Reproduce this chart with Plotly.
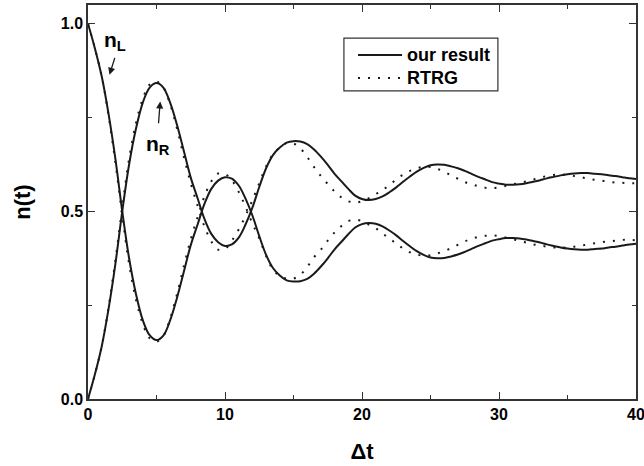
import plotly.graph_objects as go

# time grid (Delta t)
t = [i * 0.5 for i in range(81)]

# "our result" (solid)
our_nL = [1.000, 0.935, 0.860, 0.760, 0.640, 0.500, 0.375, 0.280, 0.210, 0.170,
          0.157, 0.169, 0.210, 0.270, 0.340, 0.410, 0.465, 0.520, 0.560, 0.582,
          0.591, 0.587, 0.569, 0.534, 0.489, 0.434, 0.384, 0.349, 0.329, 0.316,
          0.313, 0.314, 0.320, 0.334, 0.353, 0.375, 0.399, 0.419, 0.439, 0.457,
          0.466, 0.469, 0.467, 0.460, 0.449, 0.436, 0.421, 0.407, 0.394, 0.384,
          0.377, 0.375, 0.376, 0.380, 0.385, 0.392, 0.400, 0.408, 0.415, 0.422,
          0.426, 0.429, 0.429, 0.428, 0.425, 0.421, 0.417, 0.412, 0.408, 0.404,
          0.401, 0.399, 0.398, 0.398, 0.400, 0.401, 0.404, 0.406, 0.409, 0.412,
          0.414]
our_nR = [0.000, 0.065, 0.140, 0.240, 0.360, 0.500, 0.625, 0.720, 0.790, 0.830,
          0.842, 0.830, 0.789, 0.730, 0.660, 0.590, 0.535, 0.480, 0.440, 0.418,
          0.408, 0.412, 0.430, 0.465, 0.510, 0.565, 0.615, 0.650, 0.670, 0.683,
          0.687, 0.686, 0.679, 0.665, 0.646, 0.624, 0.600, 0.580, 0.560, 0.542,
          0.533, 0.530, 0.533, 0.540, 0.551, 0.564, 0.579, 0.593, 0.606, 0.616,
          0.623, 0.625, 0.624, 0.620, 0.615, 0.608, 0.600, 0.592, 0.585, 0.578,
          0.574, 0.571, 0.571, 0.572, 0.575, 0.579, 0.583, 0.588, 0.592, 0.596,
          0.599, 0.601, 0.602, 0.602, 0.600, 0.599, 0.596, 0.594, 0.591, 0.588,
          0.586]

# RTRG (dotted)
rtrg_nL = [1.000, 0.935, 0.860, 0.755, 0.630, 0.490, 0.360, 0.265, 0.200, 0.162,
           0.153, 0.168, 0.215, 0.280, 0.355, 0.425, 0.485, 0.540, 0.580, 0.601,
           0.600, 0.583, 0.552, 0.512, 0.468, 0.428, 0.381, 0.345, 0.328, 0.321,
           0.321, 0.331, 0.352, 0.378, 0.398, 0.422, 0.444, 0.461, 0.474, 0.478,
           0.474, 0.465, 0.455, 0.441, 0.428, 0.414, 0.401, 0.391, 0.385, 0.382,
           0.383, 0.388, 0.394, 0.402, 0.411, 0.420, 0.427, 0.432, 0.435, 0.436,
           0.434, 0.430, 0.426, 0.421, 0.417, 0.412, 0.409, 0.406, 0.404, 0.403,
           0.404, 0.406, 0.409, 0.412, 0.415, 0.418, 0.420, 0.422, 0.424, 0.424,
           0.423]
rtrg_nR = [0.000, 0.065, 0.140, 0.245, 0.370, 0.510, 0.640, 0.735, 0.800, 0.838,
           0.846, 0.830, 0.785, 0.720, 0.645, 0.575, 0.515, 0.460, 0.420, 0.398,
           0.400, 0.422, 0.452, 0.488, 0.530, 0.575, 0.620, 0.652, 0.670, 0.682,
           0.681, 0.668, 0.645, 0.618, 0.594, 0.573, 0.553, 0.537, 0.527, 0.523,
           0.527, 0.535, 0.546, 0.557, 0.570, 0.585, 0.598, 0.608, 0.615, 0.619,
           0.618, 0.613, 0.606, 0.596, 0.587, 0.578, 0.572, 0.567, 0.563, 0.562,
           0.564, 0.568, 0.572, 0.576, 0.580, 0.585, 0.590, 0.594, 0.597, 0.598,
           0.597, 0.594, 0.591, 0.587, 0.584, 0.582, 0.579, 0.577, 0.576, 0.575,
           0.575]

series_names = ["our result", "RTRG"]

FONT = "Arial, Liberation Sans, sans-serif"
INK = "#1a1a1a"
DOT = "2px,8px"

fig = go.Figure()
fig.add_trace(go.Scatter(x=t, y=our_nL, mode="lines", name=series_names[0],
                         line=dict(color=INK, width=2, shape="spline"), showlegend=False))
fig.add_trace(go.Scatter(x=t, y=our_nR, mode="lines", name=series_names[0],
                         line=dict(color=INK, width=2, shape="spline"), showlegend=False))
fig.add_trace(go.Scatter(x=t, y=rtrg_nL, mode="lines", name=series_names[1],
                         line=dict(color=INK, width=2, dash=DOT, shape="spline"), showlegend=False))
fig.add_trace(go.Scatter(x=t, y=rtrg_nR, mode="lines", name=series_names[1],
                         line=dict(color=INK, width=2, dash=DOT, shape="spline"), showlegend=False))

axis_common = dict(showline=True, linecolor="#333", linewidth=1.5, mirror="ticks",
                   ticks="inside", ticklen=7, tickwidth=1.3, tickcolor="#333",
                   showgrid=False, zeroline=False, automargin=False,
                   ticklabeloverflow="allow",
                   tickfont=dict(family=FONT, size=16, color="black", weight="bold"))

fig.update_xaxes(range=[0, 40], dtick=10, tick0=0,
                 minor=dict(dtick=5, ticks="inside", ticklen=4, tickcolor="#333", tickwidth=1.2),
                 title=dict(text="Δt", font=dict(family=FONT, size=22, color="black", weight="bold"),
                            standoff=22),
                 **axis_common)
fig.update_yaxes(range=[0, 1.05], tickvals=[0, 0.5, 1.0], ticktext=["0.0", "0.5", "1.0"],
                 minor=dict(tickvals=[0.25, 0.75], ticks="inside", ticklen=4, tickcolor="#333", tickwidth=1.2),
                 title=dict(text="n(t)", font=dict(family=FONT, size=22, color="black", weight="bold"),
                            standoff=24),
                 **axis_common)

# labels n_L and n_R with arrows
fig.add_annotation(x=1.57, y=0.864, ax=1.99, ay=0.913, axref="x", ayref="y",
                   xref="x", yref="y", text="", showarrow=True,
                   arrowhead=2, arrowsize=1.1, arrowwidth=1.3, arrowcolor=INK)
fig.add_annotation(x=2.0, y=0.953, xref="x", yref="y", showarrow=False,
                   text="n<sub>L</sub>", font=dict(family=FONT, size=21, color="black", weight="bold"))
fig.add_annotation(x=5.27, y=0.793, ax=5.14, ay=0.731, axref="x", ayref="y",
                   xref="x", yref="y", text="", showarrow=True,
                   arrowhead=2, arrowsize=1.1, arrowwidth=1.3, arrowcolor=INK)
fig.add_annotation(x=5.12, y=0.678, xref="x", yref="y", showarrow=False,
                   text="n<sub>R</sub>", font=dict(family=FONT, size=21, color="black", weight="bold"))

# legend box (drawn in paper coordinates)
fig.add_shape(type="rect", xref="paper", yref="paper", x0=0.467, x1=0.748, y0=0.782, y1=0.916,
              line=dict(color="#333", width=1.2), fillcolor="white", layer="above")
legend_rows = [(0.873, None), (0.815, DOT)]
for (ly, dash), name in zip(legend_rows, series_names):
    fig.add_shape(type="line", xref="paper", yref="paper", x0=0.4927, x1=0.573, y0=ly, y1=ly,
                  line=dict(color=INK, width=2, dash=dash if dash else "solid"), layer="above")
    fig.add_annotation(x=0.579, y=ly, xref="paper", yref="paper", xanchor="left", yanchor="middle",
                       showarrow=False, text=name,
                       font=dict(family=FONT, size=18, color="black", weight="bold"))

fig.update_layout(
    width=644, height=466,
    margin=dict(l=88, r=8, t=5, b=67, autoexpand=False),
    paper_bgcolor="white", plot_bgcolor="white",
    showlegend=False,
)

fig.write_html("out.html", config={"displayModeBar": False},
               post_script="document.body.style.margin='0';document.body.style.padding='0';")
